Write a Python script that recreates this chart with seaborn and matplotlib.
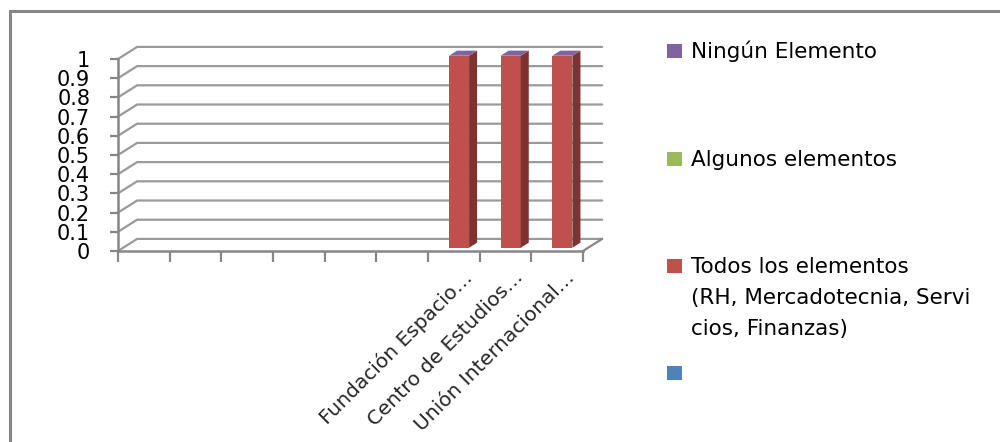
import matplotlib
matplotlib.use("Agg")
import matplotlib.pyplot as plt
import matplotlib.transforms as mtransforms
from matplotlib.patches import Rectangle, Polygon
import numpy as np
import pandas as pd
import seaborn as sns

# Categories (the first six have no visible name)
categories = ["", "", "", "", "", "",
              "Fundación Espacio…", "Centro de Estudios…", "Unión Internacional…"]

# Stacked series, bottom to top
series_names = ["",
                "Todos los elementos (RH, Mercadotecnia, Servicios, Finanzas)",
                "Algunos elementos",
                "Ningún Elemento"]
serie_blank = [0, 0, 0, 0, 0, 0, 0, 0, 0]
serie_todos = [0, 0, 0, 0, 0, 0, 1, 1, 1]
serie_algunos = [0, 0, 0, 0, 0, 0, 0, 0, 0]
serie_ninguno = [0, 0, 0, 0, 0, 0, 0, 0, 0]
series_values = [serie_blank, serie_todos, serie_algunos, serie_ninguno]
series_colors = ["#4F81BD", "#C0504D", "#9BBB59", "#8064A2"]
side_colors = ["#375A85", "#7E3331", "#6C833E", "#594671"]

# Legend text lines as wrapped in the chart (top entry = uppermost series)
legend_lines = [["Ningún Elemento"],
                ["Algunos elementos"],
                ["Todos los elementos", "(RH, Mercadotecnia, Servi", "cios, Finanzas)"],
                [""]]

y_ticks = [0, 0.1, 0.2, 0.3, 0.4, 0.5, 0.6, 0.7, 0.8, 0.9, 1]
y_tick_labels = ["0", "0.1", "0.2", "0.3", "0.4", "0.5", "0.6", "0.7", "0.8", "0.9", "1"]

sns.set_theme(style="white")
plt.rcParams["font.family"] = ["DejaVu Sans"]

W, H = 1000, 442
fig = plt.figure(figsize=(W / 100, H / 100), dpi=100)
ax = fig.add_axes([118 / W, 1 - 251 / H, 465 / W, 192 / H])

n = len(categories)
xlim = (-0.5, n - 0.5)
ax.set_xlim(*xlim)
ax.set_ylim(0, 1)

# depth vectors (data units) of the floor and of the bars
depth = np.array([0.37, -0.063])
bar_front = 0.27 * depth
bar_depth = 0.42 * depth
bar_width = 0.39

grid_col = "#9A9A9A"
axis_col = "#868686"

# back wall gridlines with their diagonals to the front axis
for v in y_ticks:
    ax.plot([xlim[0], xlim[0] + depth[0], xlim[1] + depth[0]],
            [v, v - depth[1], v - depth[1]],
            color=grid_col, lw=1.6, clip_on=False, zorder=1)
# right edge of the floor
ax.plot([xlim[1], xlim[1] + depth[0]], [0, -depth[1]],
        color=axis_col, lw=1.6, clip_on=False, zorder=1)

# stacked front faces via seaborn
bottoms = np.zeros(n)
positions = np.arange(n)
for name, vals, col, scol in zip(series_names, series_values, series_colors, side_colors):
    df = pd.DataFrame({"pos": positions, "val": vals})
    before = len(ax.patches)
    sns.barplot(data=df, x="pos", y="val", color=col, width=bar_width,
                saturation=1, ax=ax, zorder=3, errorbar=None, edgecolor="none")
    new_patches = ax.patches[before:]
    for p, b, v in zip(new_patches, bottoms, vals):
        p.set_x(p.get_x() + bar_front[0])
        p.set_y(b - bar_front[1])
        p.set_clip_on(False)
        if v > 0:
            x0 = p.get_x() + p.get_width()
            y0 = b - bar_front[1]
            side = Polygon([(x0, y0), (x0 + bar_depth[0], y0 - bar_depth[1]),
                            (x0 + bar_depth[0], y0 + v - bar_depth[1]), (x0, y0 + v)],
                           closed=True, facecolor=scol, edgecolor="none",
                           zorder=3, clip_on=False)
            ax.add_patch(side)
    bottoms = bottoms + np.array(vals)

# top caps take the colour of the uppermost series
for i, total in enumerate(bottoms):
    if total > 0:
        x0 = positions[i] - bar_width / 2 + bar_front[0]
        y0 = total - bar_front[1]
        cap = Polygon([(x0, y0), (x0 + bar_width, y0),
                       (x0 + bar_width + bar_depth[0], y0 - bar_depth[1]),
                       (x0 + bar_depth[0], y0 - bar_depth[1])],
                      closed=True, facecolor=series_colors[-1], edgecolor="none",
                      zorder=4, clip_on=False)
        ax.add_patch(cap)

# axes styling
for s in ["top", "right"]:
    ax.spines[s].set_visible(False)
for s in ["left", "bottom"]:
    ax.spines[s].set_color(axis_col)
    ax.spines[s].set_linewidth(1.8)
ax.set_xlabel("")
ax.set_ylabel("")
ax.set_yticks(y_ticks, y_tick_labels, fontsize=15)
ax.tick_params(axis="y", length=6, width=1.6, color=axis_col, pad=14, direction="out", left=True)
ax.set_xticks(positions)
ax.set_xticklabels(categories, rotation=45, ha="right", rotation_mode="anchor", fontsize=14.5)
ax.set_xticks(np.arange(n + 1) - 0.5, minor=True)
ax.tick_params(axis="x", which="major", length=0, pad=2)
ax.tick_params(axis="x", which="minor", length=8, width=1.6, color=axis_col, bottom=True)
offset = mtransforms.ScaledTranslation(8 / 100, -14 / 100, fig.dpi_scale_trans)
for lbl in ax.get_xticklabels():
    lbl.set_transform(lbl.get_transform() + offset)
for lbl in ax.get_yticklabels():
    lbl.set_color("black")

# legend, drawn line by line
legend_baselines = [58, 166, 273, 380]
legend_colors = series_colors[::-1]
for base, col, lines in zip(legend_baselines, legend_colors, legend_lines):
    fig.add_artist(Rectangle((667 / W, 1 - base / H), 15 / W, 14 / H,
                             transform=fig.transFigure, facecolor=col, edgecolor="none"))
    for k, line in enumerate(lines):
        fig.text(691 / W, 1 - (base + 31 * k) / H, line, ha="left", va="baseline",
                 fontsize=15.5, color="black")

# chart border
fig.add_artist(Rectangle((9.5 / W, -0.2), 1.2, 1.2 - 10.5 / H,
                         transform=fig.transFigure, facecolor="none",
                         edgecolor=axis_col, lw=2.2))

fig.savefig("out.png", dpi=100, facecolor="white")
